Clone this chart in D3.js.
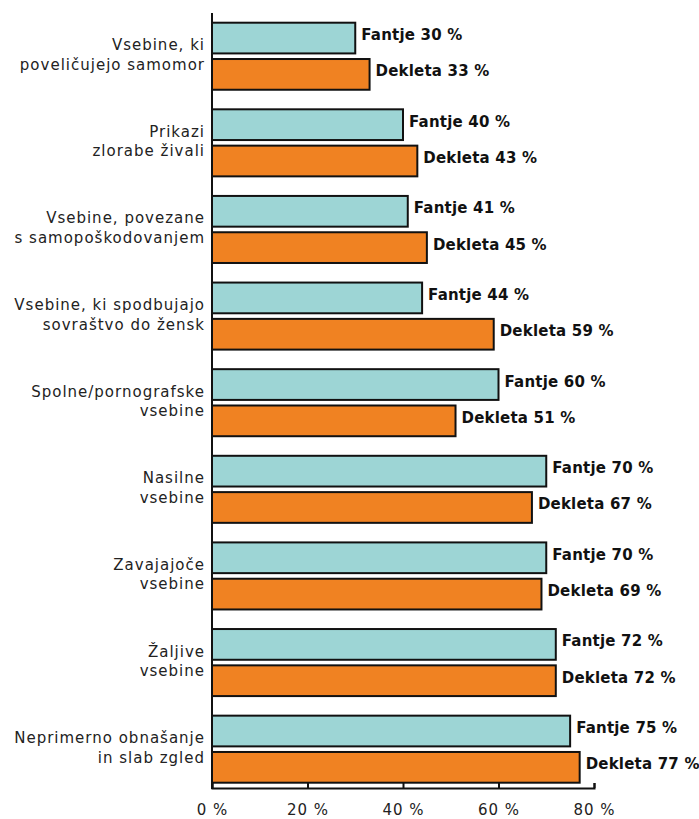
<!DOCTYPE html>
<html>
<head>
<meta charset="utf-8">
<script src="https://cdn.jsdelivr.net/npm/d3@7"></script>
<style>
  html, body { margin: 0; padding: 0; background: #fff; }
  svg text { font-family: "DejaVu Sans", sans-serif; letter-spacing: 1px; }
</style>
</head>
<body>
<svg id="chart" width="699" height="819"></svg>
<script>
// categories (each split into two label lines)
const categories = [
  ["Vsebine, ki", "poveličujejo samomor"],
  ["Prikazi", "zlorabe živali"],
  ["Vsebine, povezane", "s samopoškodovanjem"],
  ["Vsebine, ki spodbujajo", "sovraštvo do žensk"],
  ["Spolne/pornografske", "vsebine"],
  ["Nasilne", "vsebine"],
  ["Zavajajoče", "vsebine"],
  ["Žaljive", "vsebine"],
  ["Neprimerno obnašanje", "in slab zgled"]
];
const seriesNames = ["Fantje", "Dekleta"];
const fantje = [30, 40, 41, 44, 60, 70, 70, 72, 75];
const dekleta = [33, 43, 45, 59, 51, 67, 69, 72, 77];
const xTicks = [0, 20, 40, 60, 80];

const colors = { Fantje: "#9dd5d5", Dekleta: "#f08222" };

const svg = d3.select("#chart");
const plotLeft = 212, plotRight = 594, axisY = 788, plotTop = 13;

const x = d3.scaleLinear().domain([0, 80]).range([plotLeft, plotRight]);

const keys = categories.map((c, i) => i);
const y = d3.scaleBand().domain(keys).range([22.7, 782.7])
  .paddingInner(0.226).paddingOuter(0);
const ySub = d3.scaleBand().domain(seriesNames).range([0, y.bandwidth()])
  .paddingInner(0.154).paddingOuter(0);

const rows = keys.map(i => ({ i, values: [
  { name: "Fantje", v: fantje[i] },
  { name: "Dekleta", v: dekleta[i] }
]}));

const g = svg.selectAll("g.row").data(rows).enter()
  .append("g").attr("class", "row")
  .attr("transform", d => `translate(0,${y(d.i)})`);

g.selectAll("rect").data(d => d.values).enter()
  .append("rect")
  .attr("x", x(0))
  .attr("y", d => ySub(d.name))
  .attr("width", d => x(d.v) - x(0))
  .attr("height", ySub.bandwidth())
  .attr("fill", d => colors[d.name])
  .attr("stroke", "#111")
  .attr("stroke-width", 2);

g.selectAll("text.val").data(d => d.values).enter()
  .append("text").attr("class", "val")
  .attr("x", d => x(d.v) + 6)
  .attr("y", d => ySub(d.name) + ySub.bandwidth() / 2 + 2)
  .attr("font-size", 15)
  .attr("font-weight", "bold")
  .style("letter-spacing", "0.2px")
  .attr("fill", "#111")
  .text(d => `${d.name} ${d.v} %`);

// category labels
const lab = g.append("text")
  .attr("text-anchor", "end")
  .attr("font-size", 15)
  .attr("fill", "#222");
lab.append("tspan")
  .attr("x", 205)
  .attr("y", y.bandwidth() / 2 - 6)
  .text(d => categories[d.i][0]);
lab.append("tspan")
  .attr("x", 205)
  .attr("y", y.bandwidth() / 2 + 13.5)
  .text(d => categories[d.i][1]);

// x axis
const xAxis = d3.axisBottom(x)
  .tickValues(xTicks)
  .tickSizeInner(-5)
  .tickSizeOuter(-5)
  .tickPadding(16)
  .tickFormat(d => `${d} %`);
const ax = svg.append("g").attr("transform", `translate(0,${axisY})`).call(xAxis);
ax.select(".domain").attr("stroke", "#111").attr("stroke-width", 2);
ax.selectAll(".tick line").attr("stroke", "#111").attr("stroke-width", 2);
ax.selectAll(".tick text")
  .attr("font-family", "DejaVu Sans, sans-serif")
  .attr("font-size", 15)
  .attr("fill", "#222");

// y axis line
svg.append("line")
  .attr("x1", plotLeft).attr("x2", plotLeft)
  .attr("y1", plotTop).attr("y2", axisY + 1)
  .attr("stroke", "#111").attr("stroke-width", 2);
</script>
</body>
</html>
